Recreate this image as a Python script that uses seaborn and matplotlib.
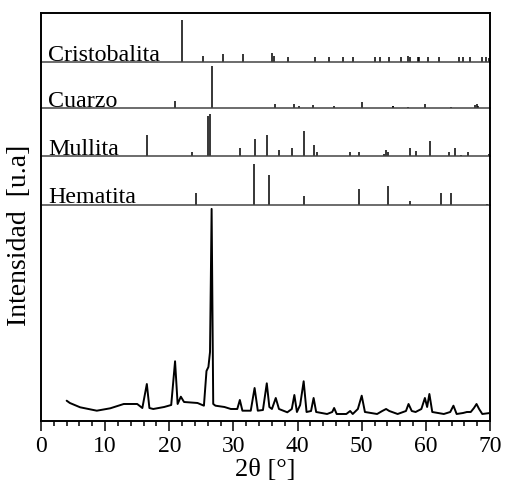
import numpy as np
import pandas as pd
import matplotlib
matplotlib.use("Agg")
import matplotlib.pyplot as plt
import seaborn as sns

# ---------------- data ----------------
# Experimental XRD pattern (2theta in degrees, intensity in arbitrary units)
exp_2theta = [4.0, 4.5, 6.1, 8.7, 10.8, 12.9, 15.0, 15.8, 16.5, 16.9, 17.5, 19.2, 20.3,
              20.9, 21.3, 21.8, 22.3, 24.4, 25.4, 25.8, 26.1, 26.35, 26.6, 26.85, 27.2,
              28.6, 29.6, 30.6, 31.0, 31.4, 32.7, 33.3, 33.8, 34.6, 35.2, 35.6, 36.0,
              36.6, 37.1, 38.4, 39.1, 39.5, 39.9, 40.4, 40.95, 41.4, 42.1, 42.5, 42.9,
              44.6, 45.4, 45.7, 46.1, 47.6, 48.2, 48.6, 49.4, 50.0, 50.5, 52.4, 53.2,
              53.8, 54.3, 55.6, 56.9, 57.3, 57.8, 58.4, 59.3, 59.85, 60.2, 60.55, 61.0,
              62.8, 63.8, 64.3, 64.8, 65.8, 66.4, 67.0, 67.5, 67.9, 68.3, 68.8, 70.0]
exp_intensity = [20.3, 18, 13.7, 10.3, 12.7, 17, 17, 13, 37, 13, 12, 14, 16,
                 59.7, 17, 24.3, 19, 18, 15.3, 50, 54, 69, 212, 17, 15.3,
                 14, 12, 12, 21, 10.3, 10.3, 33, 10.3, 11, 37.7, 14, 12,
                 23, 12, 8.7, 12, 26, 9, 16, 39.7, 9, 10, 23, 9,
                 7, 9, 13, 7, 7, 10, 7, 12, 25.3, 9, 7, 10,
                 12, 10, 7, 10, 17, 10, 9, 12, 23, 14, 27, 9,
                 7, 9, 15.3, 7, 8, 9, 9, 13, 17, 12, 7, 8]

# Reference stick patterns (position, relative intensity)
cristobalita_pos = [22.03, 25.26, 28.43, 31.5, 36.07, 36.3, 38.45, 42.7, 44.9, 47.1, 48.7,
                    52.0, 52.9, 54.3, 56.2, 57.2, 57.6, 58.8, 59.0, 60.4, 62.1, 65.2, 65.8,
                    66.9, 68.8, 69.4, 69.85]
cristobalita_int = [0.86, 0.12, 0.16, 0.16, 0.18, 0.13, 0.10, 0.10, 0.10, 0.11, 0.11,
                    0.10, 0.10, 0.10, 0.10, 0.12, 0.10, 0.10, 0.10, 0.10, 0.10, 0.10, 0.10,
                    0.10, 0.10, 0.10, 0.08]

cuarzo_pos = [20.84, 26.6, 36.5, 39.4, 40.2, 42.4, 45.7, 50.05, 54.8, 54.95, 57.2, 59.9,
              63.9, 67.7, 67.9, 68.1]
cuarzo_int = [0.15, 0.92, 0.09, 0.09, 0.04, 0.07, 0.04, 0.13, 0.04, 0.04, 0.02, 0.09,
              0.03, 0.07, 0.08, 0.05]

mullita_pos = [16.5, 23.6, 26.1, 26.4, 31.1, 33.3, 35.3, 37.1, 39.2, 40.95, 42.6, 43.0,
               48.2, 49.5, 53.4, 53.8, 54.1, 57.6, 58.5, 60.6, 63.6, 64.5, 65.5, 66.5, 69.85]
mullita_int = [0.44, 0.08, 0.83, 0.87, 0.17, 0.35, 0.44, 0.13, 0.17, 0.53, 0.23, 0.08,
               0.08, 0.09, 0.05, 0.13, 0.09, 0.17, 0.11, 0.31, 0.08, 0.16, 0.03, 0.08, 0.05]

hematita_pos = [24.2, 33.2, 35.6, 40.95, 49.5, 54.1, 57.6, 62.4, 63.9, 69.6]
hematita_int = [0.24, 0.84, 0.60, 0.17, 0.33, 0.38, 0.08, 0.24, 0.24, 0.02]

phase_names = ["Cristobalita", "Cuarzo", "Mullita", "Hematita"]
x_ticks = [0, 10, 20, 30, 40, 50, 60, 70]
x_label = "2θ [°]"
y_label = "Intensidad  [u.a]"

# ---------------- figure ----------------
sns.set_theme(style="ticks")
plt.rcParams["font.family"] = ["Liberation Serif", "DejaVu Serif"]
plt.rcParams["font.size"] = 16
plt.rcParams["text.color"] = "black"
plt.rcParams["axes.labelcolor"] = "black"
plt.rcParams["xtick.color"] = "black"
plt.rcParams["xtick.labelcolor"] = "black"

W, H = 508, 481
fig = plt.figure(figsize=(W / 100, H / 100), dpi=100)
gs = fig.add_gridspec(5, 1, height_ratios=[49, 46, 48, 48.5, 216.3], hspace=0,
                      left=41 / W, right=490 / W, top=1 - 14 / H, bottom=1 - 422 / H)

sticks = [(cristobalita_pos, cristobalita_int),
          (cuarzo_pos, cuarzo_int),
          (mullita_pos, mullita_int),
          (hematita_pos, hematita_int)]

axes = [fig.add_subplot(gs[i]) for i in range(5)]
frame_lw = 1.4
sep_color = "#444444"

for i, (ax, name, (pos, inten)) in enumerate(zip(axes[:4], phase_names, sticks)):
    ax.set_facecolor("none")
    ax.vlines(pos, 0, inten, color="black", lw=1.1)
    ax.set_xlim(0, 70)
    ax.set_ylim(0, 1)
    ax.set_xticks([])
    ax.set_yticks([])
    for s in ["left", "right"]:
        ax.spines[s].set_color("black")
        ax.spines[s].set_linewidth(frame_lw)
    ax.spines["top"].set_visible(i == 0)
    ax.spines["top"].set_color("black")
    ax.spines["top"].set_linewidth(frame_lw)
    ax.spines["bottom"].set_color(sep_color)
    ax.spines["bottom"].set_linewidth(1.1)
    ax.text(0.016, 0.05, name, transform=ax.transAxes, ha="left", va="baseline",
            fontsize=17.3, color="black")

ax = axes[4]
ax.set_facecolor("none")
df = pd.DataFrame({"two_theta": exp_2theta, "intensity": exp_intensity})
sns.lineplot(data=df, x="two_theta", y="intensity", color="black", lw=1.4,
             estimator=None, ax=ax)
ax.set_xlim(0, 70)
ax.set_ylim(0, 216.3)
ax.set_yticks([])
ax.set_xticks(x_ticks)
ax.set_xticks(np.arange(0, 71, 2), minor=True)
ax.tick_params(axis="x", which="major", direction="out", length=7, width=1.1,
               labelsize=17, pad=3, color="black", labelcolor="black")
ax.tick_params(axis="x", which="minor", direction="out", length=3.8, width=1.1,
               color="black")
ax.set_xlabel(x_label, fontsize=19, labelpad=1.5, color="black")
ax.set_ylabel("")
ax.spines["top"].set_visible(False)
for s in ["left", "right", "bottom"]:
    ax.spines[s].set_color("black")
    ax.spines[s].set_linewidth(frame_lw)

fig.text(20 / W, 1 - 235 / H, y_label, rotation=90, ha="center", va="center",
         fontsize=20, color="black")

fig.savefig("out.png", dpi=100, facecolor="white")
